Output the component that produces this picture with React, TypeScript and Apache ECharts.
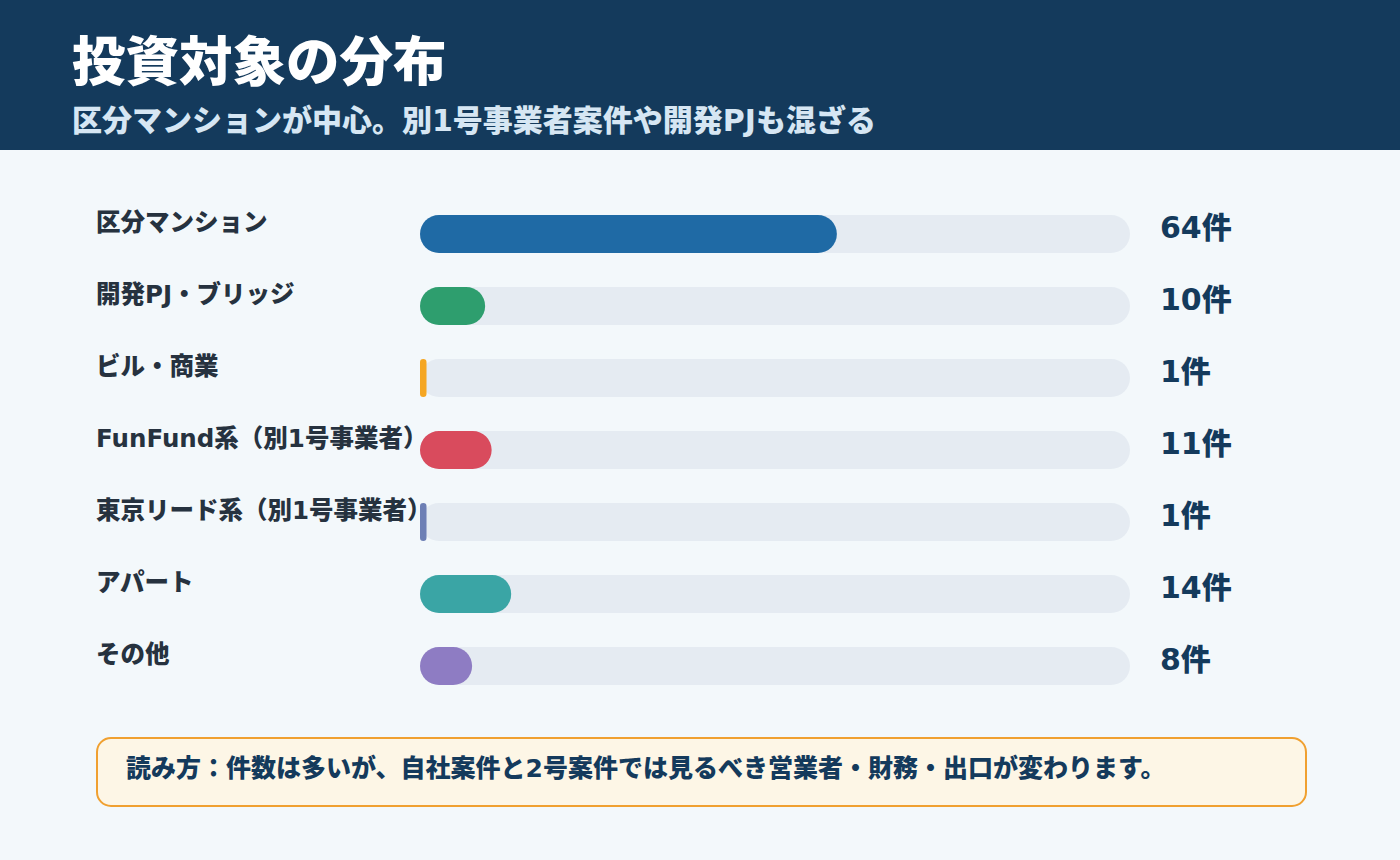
import React, { useEffect, useRef } from "react";
import * as echarts from "echarts";

const TITLE = "投資対象の分布";
const SUBTITLE = "区分マンションが中心。別1号事業者案件や開発PJも混ざる";
const NOTE = "読み方：件数は多いが、自社案件と2号案件では見るべき営業者・財務・出口が変わります。";

const categories = [
  "区分マンション",
  "開発PJ・ブリッジ",
  "ビル・商業",
  "FunFund系（別1号事業者）",
  "東京リード系（別1号事業者）",
  "アパート",
  "その他",
];
const counts = [64, 10, 1, 11, 1, 14, 8];
const colors = ["#1f6aa5", "#2e9e6e", "#f5a623", "#d94b5d", "#6d7fb5", "#3aa5a5", "#8e7cc3"];
const unit = "件";

const FONT = '"DejaVu Sans", "Noto Sans CJK JP", "Noto Sans", sans-serif';

export default function App() {
  const ref = useRef<HTMLDivElement>(null);
  useEffect(() => {
    document.body.style.margin = "0";
    const chart = echarts.init(ref.current!, null, { renderer: "svg" });
    const total = counts.reduce((a, b) => a + b, 0);
    chart.setOption({
      animation: false,
      backgroundColor: "#f3f8fb",
      textStyle: { fontFamily: FONT },
      graphic: [
        { type: "rect", left: 0, top: 0, shape: { width: 1400, height: 150 }, style: { fill: "#143a5c" } },
        {
          type: "text", left: 72, top: 36,
          style: { text: TITLE, fill: "#ffffff", font: `900 53.5px ${FONT}` },
        },
        {
          type: "text", left: 72, top: 105,
          style: { text: SUBTITLE, fill: "#d6e6f3", font: `900 30px ${FONT}` },
        },
        {
          type: "rect", left: 96, top: 737,
          shape: { width: 1209, height: 68, r: 14 },
          style: { fill: "#fdf6e6", stroke: "#f0a030", lineWidth: 2 },
        },
        {
          type: "text", left: 126, top: 756,
          style: { text: NOTE, fill: "#143a5c", font: `900 25px ${FONT}` },
        },
      ],
      grid: { left: 420, right: 270, top: 198, bottom: 158, containLabel: false },
      xAxis: { type: "value", min: 0, max: total, show: false },
      yAxis: [
        {
          type: "category",
          data: categories,
          inverse: true,
          position: "left",
          axisLine: { show: false },
          axisTick: { show: false },
          axisLabel: {
            align: "left",
            verticalAlign: "bottom",
            lineHeight: 24,
            margin: 324,
            fontSize: 24.5,
            fontWeight: 900,
            color: "#26323f",
            fontFamily: FONT,
          },
        },
        {
          type: "category",
          data: counts.map((c) => `${c}${unit}`),
          inverse: true,
          position: "right",
          axisLine: { show: false },
          axisTick: { show: false },
          axisLabel: {
            align: "left",
            verticalAlign: "bottom",
            lineHeight: 14,
            margin: 30,
            fontSize: 30,
            fontWeight: 900,
            color: "#143a5c",
            fontFamily: FONT,
          },
        },
      ],
      series: [
        {
          type: "bar",
          yAxisIndex: 0,
          barWidth: 38,
          data: counts.map((c, i) => ({ value: c, itemStyle: { color: colors[i], borderRadius: 19 } })),
          showBackground: true,
          backgroundStyle: { color: "#e5ebf2", borderRadius: 19 },
        },
      ],
    });
    return () => chart.dispose();
  }, []);
  return <div ref={ref} style={{ position: "absolute", left: 0, top: 0, width: 1400, height: 860 }} />;
}
